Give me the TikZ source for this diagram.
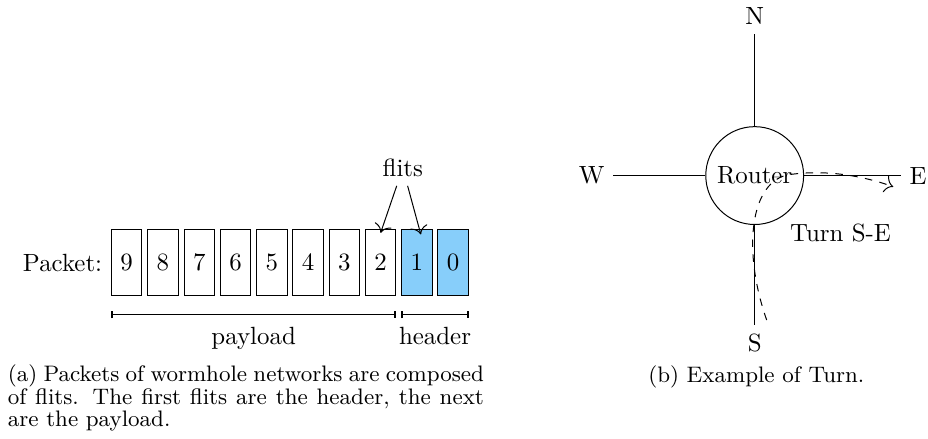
\documentclass[tikz,border=0pt]{standalone}
\usetikzlibrary{positioning,arrows.meta}
\definecolor{headerblue}{RGB}{135,206,250}
\tikzset{
     flit/.style={draw, minimum width=4.3mm, minimum height=9.37mm, inner sep=0pt},
     head flit/.style={flit, fill=headerblue},
     span line/.style={{Bar[width=2.9pt,line width=0.8pt]}-{Bar[width=2.9pt,line width=0.8pt]}},
     pointer/.style={-{To[scale=1.35]}},
     turnpath/.style={dashed, -{To[scale=1.35]}},
     caption text/.style={font=\fontsize{9}{9}\selectfont, inner sep=0pt},
    }

\begin{document}
\begin{tikzpicture}[node distance=5.12mm,on grid]
      \useasboundingbox (0,0) rectangle (13.098,-6.182);

      % (a) the packet
      \node [flit] (f9) at (1.788,-3.705) {9};
      \node [flit] (f8) [right=of f9]      {8};
      \node [flit] (f7) [right=of f8]      {7};
      \node [flit] (f6) [right=of f7]      {6};
      \node [flit] (f5) [right=of f6]      {5};
      \node [flit] (f4) [right=of f5]      {4};
      \node [flit] (f3) [right=of f4]      {3};
      \node [flit] (f2) [right=of f3]      {2};
      \node [head flit] (f1) [right=of f2] {1};
      \node [head flit] (f0) [right=of f1] {0};
      \node [anchor=east] (pkt) at (f9.west) {Packet:};

      \node (flits) at (5.685,-2.373) {flits};
      \coordinate (in2) at ([yshift=-0.57mm]f2.north);
      \coordinate (in1) at ([xshift=0.56mm,yshift=-0.8mm]f1.north);
      \path[pointer]
      (flits) edge (in2)
      (flits) edge (in1);

      \coordinate (pl-a) at ([yshift=-2.61mm]f9.south west);
      \coordinate (pl-b) at ([yshift=-2.61mm]f2.south east);
      \coordinate (hd-a) at ([yshift=-2.61mm]f1.south west);
      \coordinate (hd-b) at ([yshift=-2.61mm]f0.south east);
      \draw [span line] (pl-a) -- node [below=1.4pt] (pl) {payload} (pl-b);
      \draw [span line] (hd-a) -- node [below=1.4pt] (hd) {header} (hd-b);

      % (b) the router
      \node [circle,draw] (router) at (10.652,-2.478) {Router};
      \node (n) [above=2.249cm of router] {N};
      \node (s) [below=2.356cm of router] {S};
      \node (w) [left=2.301cm of router]  {W};
      \node (e) [right=2.305cm of router] {E};
      \draw (router) -- (n);
      \draw (router) -- (s);
      \draw (router) -- (w);
      \draw (router) -- (e);
      \node (turn) [below right=0.813cm and 1.211cm of router] {Turn S-E};

      \coordinate (turn in)  at (10.821,-4.517);
      \coordinate (turn out) at (12.608,-2.635);
      \draw [turnpath] (turn in) .. controls (10.473,-3.528) and (10.585,-2.541) .. (11.150,-2.463)
            .. controls (11.644,-2.395) and (12.138,-2.470) .. (turn out);

      % captions
      \node [caption text, text width=6.72cm, align=justify, anchor=base west] (cap a) at (0.103,-5.387)
            {(a) Packets of wormhole networks are composed of flits. The first flits are the header, the next are the payload.};
      \node [caption text, anchor=base] (cap b) at (10.675,-5.399) {(b) Example of Turn.};
\end{tikzpicture}
\end{document}
